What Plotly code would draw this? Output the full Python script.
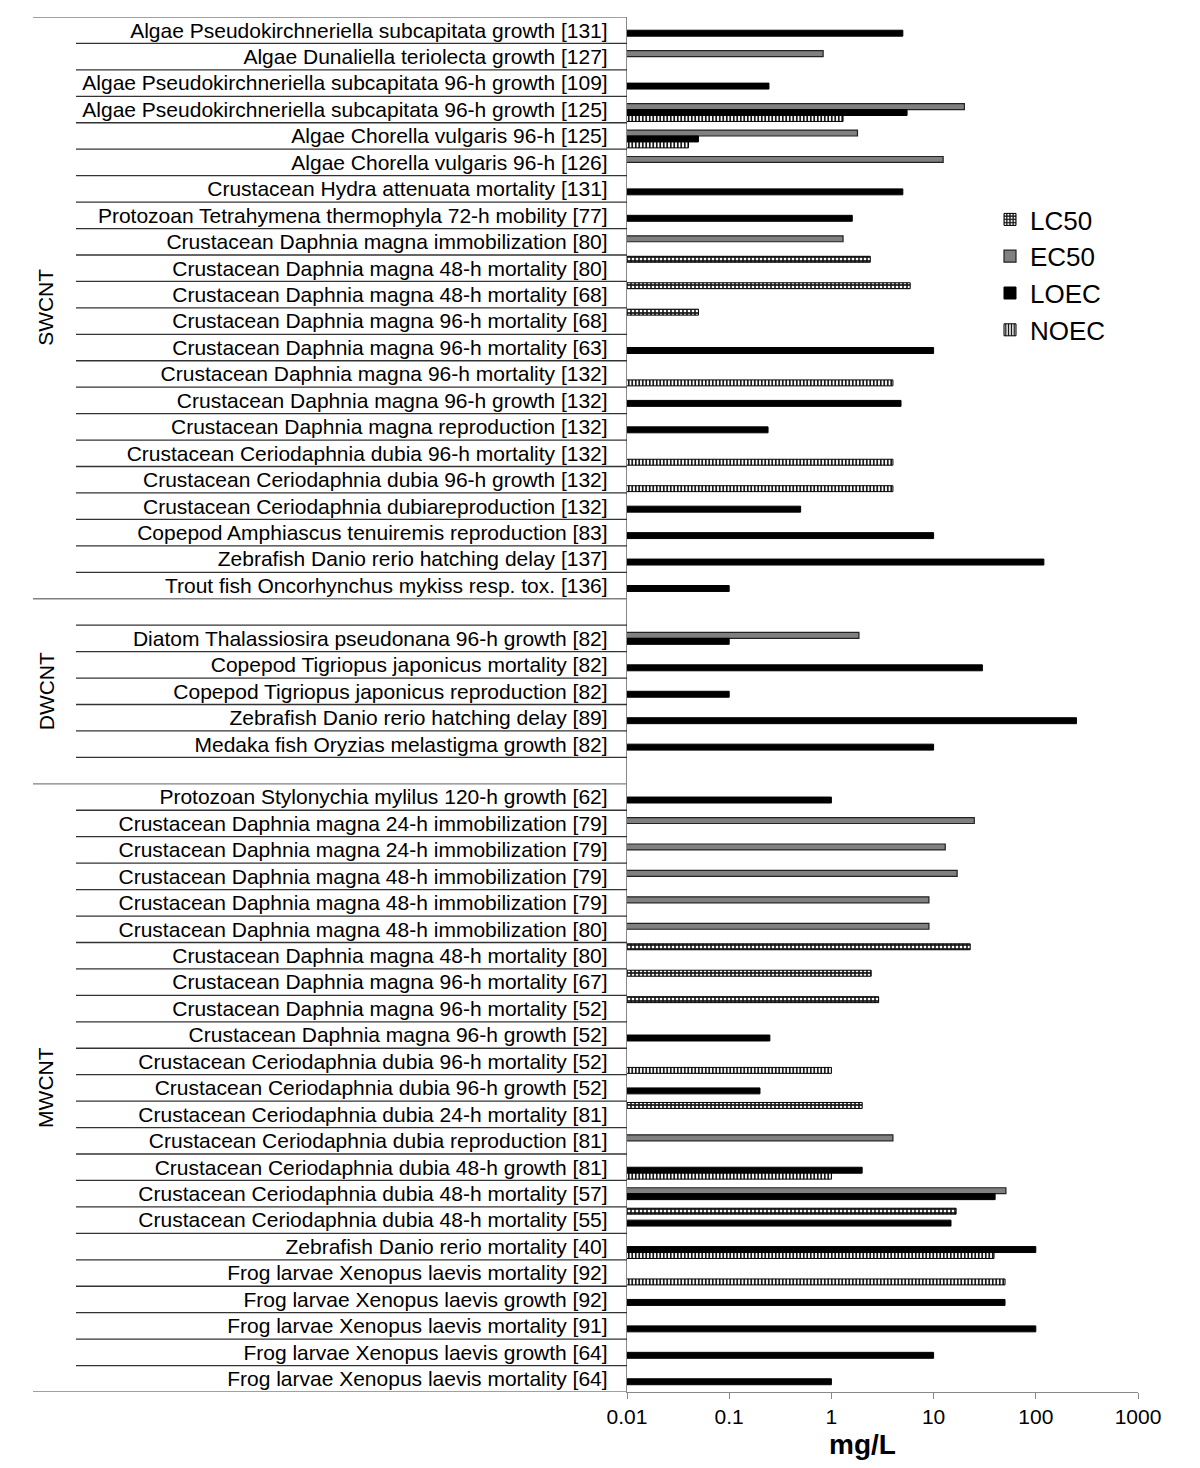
import plotly.graph_objects as go

# ---------------- data ----------------
labels = [
    "Algae Pseudokirchneriella subcapitata growth [131]",
    "Algae Dunaliella teriolecta growth [127]",
    "Algae Pseudokirchneriella subcapitata 96-h growth [109]",
    "Algae Pseudokirchneriella subcapitata 96-h growth [125]",
    "Algae Chorella vulgaris 96-h [125]",
    "Algae Chorella vulgaris 96-h [126]",
    "Crustacean Hydra attenuata mortality [131]",
    "Protozoan Tetrahymena thermophyla 72-h mobility [77]",
    "Crustacean Daphnia magna immobilization [80]",
    "Crustacean Daphnia magna 48-h mortality [80]",
    "Crustacean Daphnia magna 48-h mortality [68]",
    "Crustacean Daphnia magna 96-h mortality [68]",
    "Crustacean Daphnia magna 96-h mortality [63]",
    "Crustacean Daphnia magna 96-h mortality [132]",
    "Crustacean Daphnia magna 96-h growth [132]",
    "Crustacean Daphnia magna reproduction [132]",
    "Crustacean Ceriodaphnia dubia 96-h mortality [132]",
    "Crustacean Ceriodaphnia dubia 96-h growth [132]",
    "Crustacean Ceriodaphnia dubiareproduction [132]",
    "Copepod Amphiascus tenuiremis reproduction [83]",
    "Zebrafish Danio rerio hatching delay [137]",
    "Trout fish Oncorhynchus mykiss resp. tox. [136]",
    "",
    "Diatom Thalassiosira pseudonana 96-h growth [82]",
    "Copepod Tigriopus japonicus mortality [82]",
    "Copepod Tigriopus japonicus reproduction [82]",
    "Zebrafish Danio rerio hatching delay [89]",
    "Medaka fish Oryzias melastigma growth [82]",
    "",
    "Protozoan Stylonychia mylilus 120-h growth [62]",
    "Crustacean Daphnia magna 24-h immobilization [79]",
    "Crustacean Daphnia magna 24-h immobilization [79]",
    "Crustacean Daphnia magna 48-h immobilization [79]",
    "Crustacean Daphnia magna 48-h immobilization [79]",
    "Crustacean Daphnia magna 48-h immobilization [80]",
    "Crustacean Daphnia magna 48-h mortality [80]",
    "Crustacean Daphnia magna 96-h mortality [67]",
    "Crustacean Daphnia magna 96-h mortality [52]",
    "Crustacean Daphnia magna 96-h growth [52]",
    "Crustacean Ceriodaphnia dubia 96-h mortality [52]",
    "Crustacean Ceriodaphnia dubia 96-h growth [52]",
    "Crustacean Ceriodaphnia dubia 24-h mortality [81]",
    "Crustacean Ceriodaphnia dubia reproduction [81]",
    "Crustacean Ceriodaphnia dubia 48-h growth [81]",
    "Crustacean Ceriodaphnia dubia 48-h mortality [57]",
    "Crustacean Ceriodaphnia dubia 48-h mortality [55]",
    "Zebrafish Danio rerio mortality [40]",
    "Frog larvae Xenopus laevis mortality [92]",
    "Frog larvae Xenopus laevis growth [92]",
    "Frog larvae Xenopus laevis mortality [91]",
    "Frog larvae Xenopus laevis growth [64]",
    "Frog larvae Xenopus laevis mortality [64]",
]

groups = ["SWCNT", "DWCNT", "MWCNT"]
group_sizes = [22, 7, 23]

N = None
lc50 = [N, N, N, N, N, N, N, N, N, 2.4, 5.9, 0.05, N, N, N, N, N, N, N, N, N, N,
        N, N, N, N, N, N, N,
        N, N, N, N, N, N, 22.8, 2.45, 2.9, N, N, N, 2.0, N, N, N, 16.6, N, N, N, N, N, N]
ec50 = [N, 0.83, N, 20, 1.8, 12.4, N, N, 1.3, N, N, N, N, N, N, N, N, N, N, N, N, N,
        N, 1.86, N, N, N, N, N,
        N, 25, 13, 17, 9, 9, N, N, N, N, N, N, N, 4.0, N, 51, N, N, N, N, N, N, N]
loec = [5, N, 0.245, 5.5, 0.05, N, 5, 1.6, N, N, N, N, 10, N, 4.8, 0.24, N, N, 0.5, 10, 120, 0.1,
        N, 0.1, 30, 0.1, 250, 10, N,
        1, N, N, N, N, N, N, N, N, 0.25, N, 0.2, N, N, 2.0, 40, 14.8, 100, N, 50, 100, 10, 1]
noec = [N, N, N, 1.3, 0.04, N, N, N, N, N, N, N, N, 4, N, N, 4, 4, N, N, N, N,
        N, N, N, N, N, N, N,
        N, N, N, N, N, N, N, N, N, N, 1, N, N, N, 1, N, N, 39, 50, N, N, N, N]

x_ticks = [0.01, 0.1, 1, 10, 100, 1000]
x_tick_text = ["0.01", "0.1", "1", "10", "100", "1000"]
x_title = "mg/L"

# ---------------- layout constants ----------------
OFF = 8                      # default page body margin
W, H = 1200 - OFF, 1468 - OFF
ML = 627 - OFF
MT = 17 - OFF
MR = W - (1138 - OFF)
MB = H - (1392 - OFF)
PW = W - ML - MR
PH = H - MT - MB
FONT = "Arial, 'Liberation Sans', sans-serif"


def xpaper(page_px):
    return (page_px - OFF - ML) / PW


def ypaper(page_py):
    return (H - MB - (page_py - OFF)) / PH


rows = list(range(len(labels)))

fig = go.Figure()
series = [
    ("LC50", lc50, dict(color="#1e1e1e", line=dict(color="black", width=1),
                        pattern=dict(shape=".", fillmode="replace", bgcolor="#1e1e1e",
                                     fgcolor="white", size=4, solidity=0.35))),
    ("EC50", ec50, dict(color="#808080", line=dict(color="#222", width=1.2))),
    ("LOEC", loec, dict(color="black", line=dict(color="black", width=1))),
    ("NOEC", noec, dict(color="white", line=dict(color="black", width=1),
                        pattern=dict(shape="|", fillmode="replace", bgcolor="white",
                                     fgcolor="black", size=3.5, solidity=0.45))),
]
for name, vals, mk in series:
    fig.add_trace(go.Bar(name=name, x=vals, y=rows, orientation="h", marker=mk))

# separator lines in the category area
shapes = []
bounds = [0]
for s in group_sizes:
    bounds.append(bounds[-1] + s)
for b in range(len(labels) + 1):
    is_group = b in bounds
    shapes.append(dict(
        type="line", xref="paper", yref="y",
        x0=xpaper(33 if is_group else 76), x1=0,
        y0=b - 0.5, y1=b - 0.5,
        line=dict(color="#808080" if is_group else "#333333", width=1.3),
    ))

annotations = []
for g, a, bnd in zip(groups, bounds[:-1], bounds[1:]):
    annotations.append(dict(
        text=g, xref="paper", yref="y", x=xpaper(46), y=(a + bnd - 1) / 2,
        showarrow=False, textangle=-90, font=dict(size=21, color="black", family=FONT),
        xanchor="center", yanchor="middle",
    ))
annotations.append(dict(
    text="<b>" + x_title + "</b>", xref="paper", yref="paper",
    x=xpaper(862), y=ypaper(1444), xanchor="center", yanchor="middle",
    showarrow=False, borderpad=0, font=dict(size=28, color="black", family=FONT),
))

tick_rows = [i for i, t in enumerate(labels) if t]
fig.update_layout(
    width=W, height=H,
    margin=dict(l=ML, r=MR, t=MT, b=MB),
    paper_bgcolor="white", plot_bgcolor="white",
    barmode="group", bargap=0.1, bargroupgap=0,
    font=dict(family=FONT, color="black"),
    showlegend=True,
    legend=dict(x=xpaper(990), y=ypaper(196), xanchor="left", yanchor="top",
                font=dict(size=26, color="black", family=FONT), bgcolor="rgba(0,0,0,0)",
                itemwidth=30, tracegroupgap=0),
    xaxis=dict(
        type="log", range=[-2, 3], tickvals=x_ticks, ticktext=x_tick_text,
        showgrid=False, zeroline=False, showline=True, linecolor="#888", linewidth=1.3,
        ticks="outside", ticklen=6, tickcolor="#888", tickwidth=1.3,
        tickfont=dict(size=21, color="black"),
        automargin=False,
    ),
    yaxis=dict(
        range=[len(labels) - 0.5, -0.5], tickvals=tick_rows,
        ticktext=[labels[i] for i in tick_rows],
        showgrid=False, zeroline=False, showline=True, linecolor="#888", linewidth=1.3,
        ticks="", ticklabelstandoff=14, tickfont=dict(size=21, color="black"),
        automargin=False,
    ),
    shapes=shapes,
    annotations=annotations,
)

fig.write_html("out.html")
